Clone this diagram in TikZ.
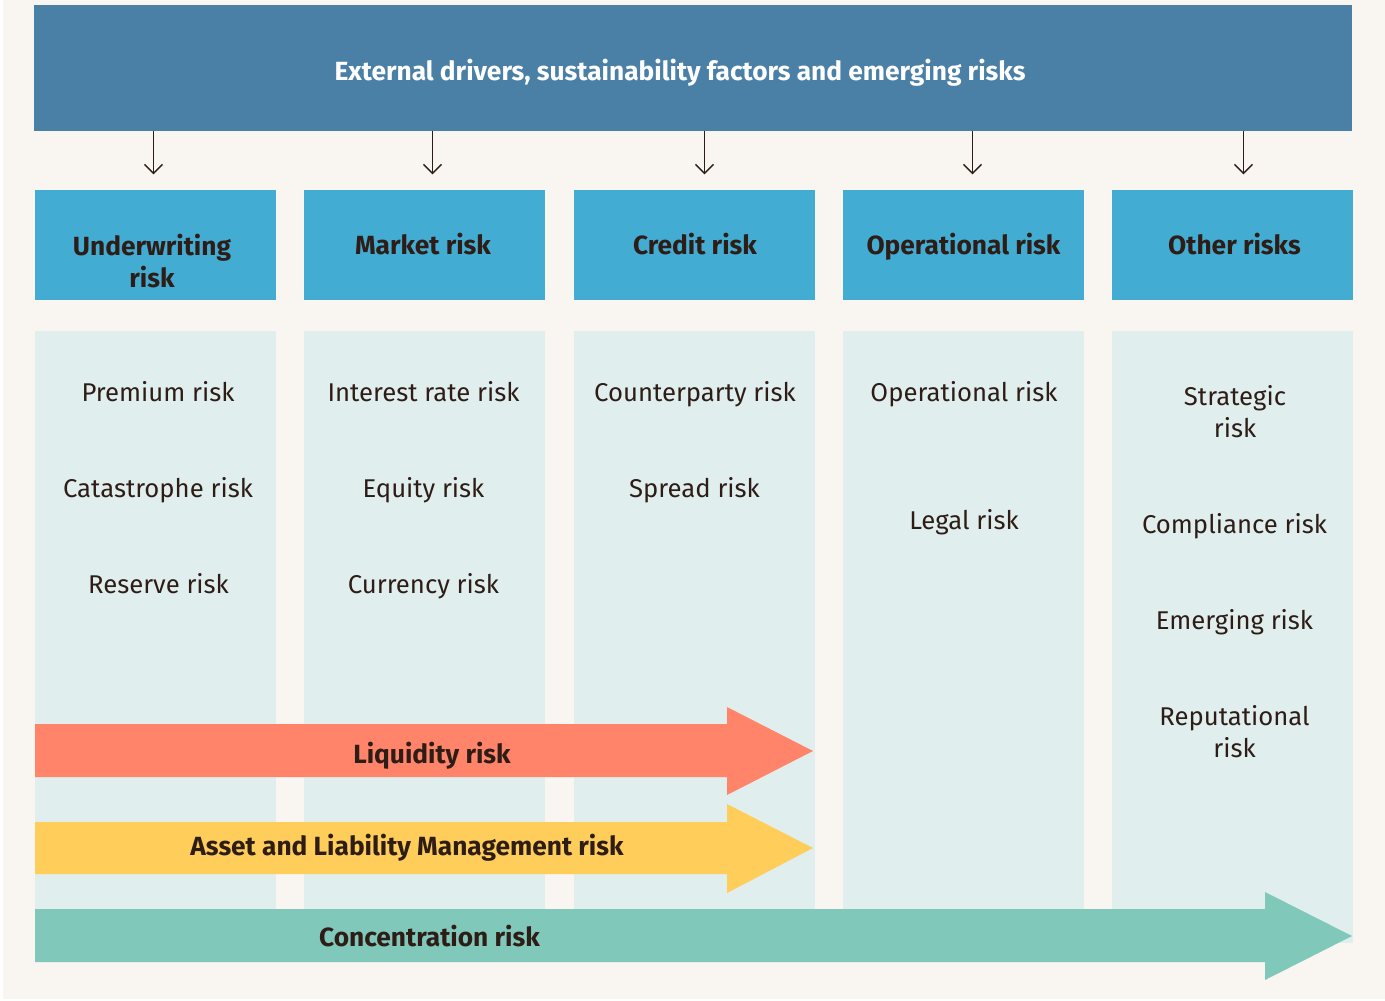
\documentclass[tikz,border=0pt]{standalone}
\usepackage{fontspec}
\setmainfont{Fira Sans}
\usetikzlibrary{arrows.meta}
\definecolor{cream}{HTML}{F9F5F1}
\definecolor{topblue}{HTML}{4B80A6}
\definecolor{headblue}{HTML}{42ACD2}
\definecolor{paleteal}{HTML}{E0EFEE}
\definecolor{salmon}{HTML}{FF8469}
\definecolor{sunny}{HTML}{FFCD59}
\definecolor{seagreen}{HTML}{7FC8BA}
\definecolor{ink}{HTML}{2E1D17}
\tikzset{
  headbox/.style={fill=headblue,minimum width=241pt,minimum height=110pt,inner sep=0pt},
  headtext/.style={text=ink,font=\bfseries\fontsize{26.3}{32}\selectfont,align=center,inner sep=0pt},
  headline/.style={headtext,text height=19pt,text depth=0pt},
  bodytext/.style={text=ink,font=\fontsize{25.7}{32}\selectfont,align=center,inner sep=0pt},
  bodyline/.style={bodytext,text height=18.5pt,text depth=0pt},
  arrowtext/.style={headline},
  downarrow/.style={draw=ink,line width=1.3pt,-{Straight Barb[length=9pt,width=18pt]},shorten >=15pt}
}
\begin{document}
\begin{tikzpicture}[x=1pt,y=-1pt]
    \useasboundingbox (0,0) rectangle (1385,1001);
    \fill[white] (0,0) rectangle (1385,1001);
    \fill[cream] (3,0) rectangle (1385,999);
    % drivers bar
    \node[fill=topblue,minimum width=1318pt,minimum height=126pt,inner sep=0pt] (top) at (693,68) {};
    \node[headline,text=white] (title) at (680,71) {External drivers, sustainability factors and emerging risks};
    % risk categories
    \node[headbox] (h1) at (155.5,244.5) {};
    \node[headbox] (h2) at (424.5,244.5) {};
    \node[headbox] (h3) at (694.5,244.5) {};
    \node[headbox] (h4) at (963.5,244.5) {};
    \node[headbox] (h5) at (1232.5,244.5) {};
    \node[headtext] (ht1) at (152,261) {Underwriting\\risk};
    \node[headline] (ht2) at (423,245) {Market risk};
    \node[headline] (ht3) at (695,245) {Credit risk};
    \node[headline] (ht4) at (963.5,245) {Operational risk};
    \node[headline] (ht5) at (1234.5,245) {Other risks};
    \draw[downarrow] ([xshift=-2pt]h1.north |- top.south) -- ([xshift=-2pt]h1.north);
    \draw[downarrow] ([xshift=8pt]h2.north |- top.south) -- ([xshift=8pt]h2.north);
    \draw[downarrow] ([xshift=10pt]h3.north |- top.south) -- ([xshift=10pt]h3.north);
    \draw[downarrow] ([xshift=9pt]h4.north |- top.south) -- ([xshift=9pt]h4.north);
    \draw[downarrow] ([xshift=11pt]h5.north |- top.south) -- ([xshift=11pt]h5.north);
    % sub-risk columns
    \fill[paleteal] (35,331) rectangle (276,909);
    \fill[paleteal] (304,331) rectangle (545,909);
    \fill[paleteal] (574,331) rectangle (815,909);
    \fill[paleteal] (843,331) rectangle (1084,909);
    \fill[paleteal] (1112,331) rectangle (1353,943);
    \node[bodyline] (p1) at (158,392) {Premium risk};
    \node[bodyline] (p2) at (158,488) {Catastrophe risk};
    \node[bodyline] (p3) at (158.5,584) {Reserve risk};
    \node[bodyline] (m1) at (423.5,392) {Interest rate risk};
    \node[bodyline] (m2) at (423.5,488) {Equity risk};
    \node[bodyline] (m3) at (423.5,584) {Currency risk};
    \node[bodyline] (c1) at (695,392) {Counterparty risk};
    \node[bodyline] (c2) at (694.5,488) {Spread risk};
    \node[bodyline] (o1) at (964,392) {Operational risk};
    \node[bodyline] (o2) at (964,520) {Legal risk};
    \node[bodytext] (s1) at (1235,412) {Strategic\\risk};
    \node[bodyline] (s2) at (1234.5,524) {Compliance risk};
    \node[bodyline] (s3) at (1234.5,620) {Emerging risk};
    \node[bodytext] (s4) at (1234.5,732) {Reputational\\risk};
    % cross-cutting risks
    \fill[salmon] (35,724) -- (727,724) -- (727,707) -- (813,751) -- (727,795) -- (727,777) -- (35,777) -- cycle;
    \fill[sunny] (35,822) -- (727,822) -- (727,804) -- (813,848) -- (727,893) -- (727,874) -- (35,874) -- cycle;
    \fill[seagreen] (35,909) -- (1265,909) -- (1265,892) -- (1352,936) -- (1265,980) -- (1265,962) -- (35,962) -- cycle;
    \node[arrowtext] (liq) at (432,754) {Liquidity risk};
    \node[arrowtext] (alm) at (407,846) {Asset and Liability Management risk};
    \node[arrowtext] (con) at (429.5,937) {Concentration risk};
\end{tikzpicture}
\end{document}
